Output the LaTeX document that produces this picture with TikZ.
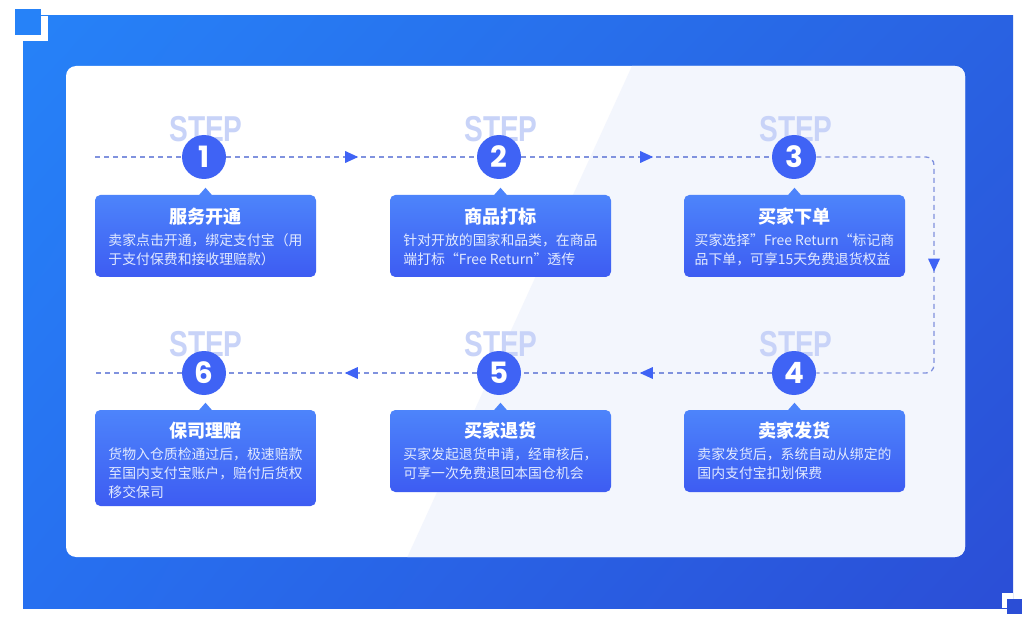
\documentclass[tikz,border=0pt]{standalone}
\usepackage{fontspec}
\usepackage{graphicx}
\setmainfont{Noto Sans CJK SC}
\newfontfamily\stepfont{Liberation Sans}
\newfontfamily\numfont{Poppins}
\usetikzlibrary{positioning,decorations.markings,shadings}

\definecolor{frameUL}{RGB}{38,130,248}
\definecolor{frameUR}{RGB}{41,98,226}
\definecolor{frameLL}{RGB}{39,112,240}
\definecolor{frameLR}{RGB}{43,78,214}
\definecolor{cardlight}{RGB}{243,246,253}
\definecolor{stepblue}{RGB}{63,99,245}
\definecolor{boxtop}{RGB}{77,132,251}
\definecolor{boxbottom}{RGB}{61,92,242}
\definecolor{steptint}{RGB}{200,211,248}
\definecolor{dashblue}{RGB}{128,146,222}
\definecolor{bodywhite}{RGB}{226,234,255}

\tikzset{
  stepcircle/.style={circle, fill=stepblue, minimum size=33pt, inner sep=0pt, text=white,
    font=\numfont\bfseries\fontsize{22}{22}\selectfont},
  steplabel/.style={text=steptint, inner sep=0pt, font=\stepfont\bfseries\fontsize{27}{27}\selectfont},
  stepbox/.style={rounded corners=4pt, top color=boxtop, bottom color=boxbottom,
    minimum width=165.75pt, inner sep=0pt},
  boxtitle/.style={text=white, inner sep=0pt, font=\bfseries\fontsize{13.6}{16}\selectfont},
  boxtext/.style={text=bodywhite, inner sep=0pt, align=left, anchor=north,
    font=\fontsize{10.4}{14.25}\selectfont},
  flowline/.style={draw=dashblue, line width=1pt, dash pattern={on 3.75pt off 3pt}},
  flowarrow/.style={postaction={decorate}, decoration={markings, mark=at position 0.5 with
    {\fill[stepblue, sharp corners] (5pt,0pt) -- (-4.75pt,4.5pt) -- (-4.75pt,-4.5pt) -- cycle;}}}
}

\begin{document}
\begin{tikzpicture}[x=0.75pt,y=0.75pt,yscale=-1,xscale=1]
\useasboundingbox (0,0) rectangle (1029,624);

%Frame
\shade[upper left=frameUL, upper right=frameUR, lower left=frameLL, lower right=frameLR] (23,16) rectangle (1013,608);
\fill[white] (23,16) rectangle (48,41);
\fill[frameUL] (15,9) rectangle (41,35);
\fill[white] (1002,593) rectangle (1013,608);
\fill[frameLR] (1007,599) rectangle (1022,614);

%Card
\fill[white, rounded corners=7.5pt] (66,66) rectangle (965,557);
\begin{scope}
\clip[rounded corners=7.5pt] (66,66) rectangle (965,557);
\fill[cardlight] (632,66) -- (970,66) -- (970,560) -- (406,560) -- cycle;
\end{scope}

% STEP labels
\node[steplabel] (s1) at (206,129) {\scalebox{0.78}[1]{STEP}};
\node[steplabel] (s2) at (501,129) {\scalebox{0.78}[1]{STEP}};
\node[steplabel] (s3) at (796,129) {\scalebox{0.78}[1]{STEP}};
\node[steplabel] (s6) at (206,344) {\scalebox{0.78}[1]{STEP}};
\node[steplabel] (s5) at (501,344) {\scalebox{0.78}[1]{STEP}};
\node[steplabel] (s4) at (796,344) {\scalebox{0.78}[1]{STEP}};

% Step circles
\node[stepcircle] (c1) at (204,157) {1};
\node[stepcircle] (c2) at (499,157) {2};
\node[stepcircle] (c3) at (794,157) {3};
\node[stepcircle] (c6) at (204,373) {6};
\node[stepcircle] (c5) at (499,373) {5};
\node[stepcircle] (c4) at (794,373) {4};

\coordinate (leftA) at (95,157);
\coordinate (turnA) at (934,157);
\coordinate (turnB) at (934,373);
\coordinate (leftB) at (95,373);

%Dashed flow
\draw[flowline] (leftA) -- (c1);
\draw[flowline, flowarrow] (c1) -- (c2);
\draw[flowline, flowarrow] (c2) -- (c3);
\draw[flowline, flowarrow, rounded corners=6pt] (c3) -- (turnA) -- (turnB) -- (c4);
\draw[flowline, flowarrow] (c4) -- (c5);
\draw[flowline, flowarrow] (c5) -- (c6);
\draw[flowline] (c6) -- (leftB);

% Boxes
\node[stepbox, minimum height=61.5pt] (b1) at (205.5,236) {};
\node[stepbox, minimum height=61.5pt] (b2) at (500.5,236) {};
\node[stepbox, minimum height=61.5pt] (b3) at (794.5,236) {};
\node[stepbox, minimum height=72pt] (b6) at (205.5,458) {};
\node[stepbox, minimum height=61.5pt] (b5) at (500.5,451) {};
\node[stepbox, minimum height=61.5pt] (b4) at (794.5,451) {};

% Pointers
\foreach \b in {b1,b2,b3,b4,b5,b6}
  \fill[boxtop] (\b.north) ++(-7,1) -- ++(7,-8) -- ++(7,8) -- cycle;

% Text Node
\node[boxtitle] (t1) at (205.5,217) {服务开通};
\node[boxtext] (d1) at (205.5,233) {卖家点击开通，绑定支付宝（用\\于支付保费和接收理赔款）};
\node[boxtitle] (t2) at (500.5,217) {商品打标};
\node[boxtext] (d2) at (500.5,233) {针对开放的国家和品类，在商品\\端打标“Free Return\symbol{"22}透传};
\node[boxtitle] (t3) at (794.5,217) {买家下单};
\node[boxtext] (d3) at (794.5,233) {买家选择”Free Return“标记商\\品下单，可享15天免费退货权益};
\node[boxtitle] (t6) at (205.5,431) {保司理赔};
\node[boxtext] (d6) at (205.5,447) {货物入仓质检通过后，极速赔款\\至国内支付宝账户，赔付后货权\\移交保司};
\node[boxtitle] (t5) at (500.5,431) {买家退货};
\node[boxtext] (d5) at (500.5,447) {买家发起退货申请，经审核后，\\可享一次免费退回本国仓机会};
\node[boxtitle] (t4) at (794.5,431) {卖家发货};
\node[boxtext] (d4) at (794.5,447) {卖家发货后，系统自动从绑定的\\国内支付宝扣划保费};

\end{tikzpicture}
\end{document}
